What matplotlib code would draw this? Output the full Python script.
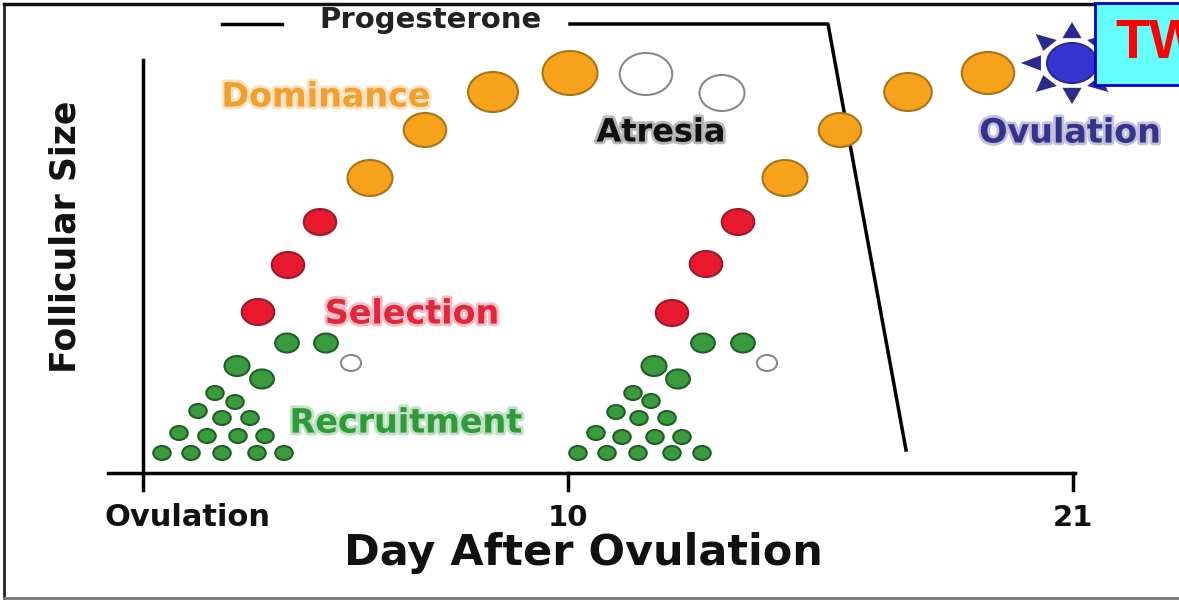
import matplotlib
matplotlib.use("Agg")
import matplotlib.pyplot as plt
import matplotlib.patheffects as pe
from matplotlib.patches import Ellipse, Rectangle, Polygon
import numpy as np

# canvas coordinates (pixel-like, y grows downward)
W, H = 1179, 602
STRETCH = 1.25  # the source picture is stretched sideways, follicles are ovals

# dominant follicles, two waves: x, y, half-height
dom_x = [370, 425, 493, 570, 785, 840, 908, 988]
dom_y = [178, 130, 92, 73, 178, 130, 92, 73]
dom_r = [18, 17, 20, 22, 18, 17, 19, 21]

# atretic follicles (empty)
atr_x = [646, 722]
atr_y = [74, 93]
atr_r = [21, 18]

# selected follicles (red)
sel_x = [258, 288, 320, 672, 706, 738]
sel_y = [312, 265, 222, 313, 264, 222]
sel_r = [13, 13, 13, 13, 13, 13]

# recruited follicles (green), first and second wave
rec_x1 = [287, 326, 237, 262, 215, 235, 198, 222, 250, 179, 207, 238, 265, 162, 191, 222, 257, 284]
rec_y1 = [343, 343, 366, 379, 393, 402, 411, 418, 418, 433, 436, 436, 436, 453, 453, 453, 453, 453]
rec_r = [9.5, 9.5, 10, 9.5, 7, 7, 7, 7, 7, 7, 7, 7, 7, 7, 7, 7, 7, 7]
rec_x2 = [703, 743, 654, 678, 633, 651, 616, 639, 667, 596, 622, 655, 682, 578, 607, 638, 672, 702]
rec_y2 = [343, 343, 366, 379, 393, 401, 412, 418, 418, 433, 437, 437, 437, 453, 453, 453, 453, 453]

# small empty follicles
small_x = [351, 767]
small_y = [363, 363]
small_r = [8, 8]

# ovulating follicle (sun)
sun_x, sun_y, sun_r = 1072, 63, 20

# progesterone line
prog_seg1_x = [222, 282]
prog_seg1_y = [24, 24]
prog_x = [570, 828, 906]
prog_y = [24, 24, 450]

# axes
xaxis_x = [108, 1075]
xaxis_y = [473, 473]
yaxis_x = [143, 143]
yaxis_y = [60, 490]
tick_x = [143, 568, 1073]
tick_labels = ["Ovulation", "10", "21"]
tick_label_x = [188, 568, 1073]
tick_label_size = [22, 21, 21]

fig = plt.figure(figsize=(W / 100, H / 100), dpi=100)
ax = fig.add_axes([0, 0, 1, 1])
ax.set_xlim(0, W)
ax.set_ylim(H, 0)
ax.axis("off")

font = ["DejaVu Sans"]

# outer frame
ax.plot([4, 4], [4, 598], color="#222222", lw=2)
ax.plot([4, 1095], [4, 4], color="#111111", lw=2.5)
ax.plot([4, W], [598, 598], color="#777777", lw=2)

# axes lines and ticks
ax.plot(xaxis_x, xaxis_y, color="black", lw=2.5)
ax.plot(yaxis_x, yaxis_y, color="black", lw=2.5)
for tx in tick_x[1:]:
    ax.plot([tx, tx], [473, 490], color="black", lw=2.5)
for lx, lab, fs in zip(tick_label_x, tick_labels, tick_label_size):
    ax.text(lx, 518, lab, ha="center", va="center", fontsize=fs, fontweight="bold",
            family=font, color="#111111")
ax.text(583, 553, "Day After Ovulation", ha="center", va="center", fontsize=31,
        fontweight="bold", family=font, color="#111111")
ax.text(66, 237, "Follicular Size", ha="center", va="center", rotation=90,
        fontsize=25, fontweight="bold", family=font, color="#111111")

# progesterone
ax.plot(prog_seg1_x, prog_seg1_y, color="black", lw=2.5)
ax.plot(prog_x, prog_y, color="black", lw=2.5)
ax.text(430, 20, "Progesterone", ha="center", va="center", fontsize=21,
        fontweight="bold", family=font, color="#222222")


def dots(xs, ys, rs, face, edge, lw=1.5):
    for x, y, r in zip(xs, ys, rs):
        ax.add_patch(Ellipse((x, y), 2 * r * STRETCH, 2 * r, facecolor=face,
                             edgecolor=edge, lw=lw, zorder=3))


dots(dom_x, dom_y, dom_r, "#f7a21b", "#a8741a")
dots(atr_x, atr_y, atr_r, "white", "#888888")
dots(sel_x, sel_y, sel_r, "#e8192c", "#9a1a28")
dots(rec_x1, rec_y1, rec_r, "#3a9a3e", "#1f5f22")
dots(rec_x2, rec_y2, rec_r, "#3a9a3e", "#1f5f22")
dots(small_x, small_y, small_r, "white", "#888888")

# sun rays
for ang in np.arange(0, 360, 45):
    a = np.deg2rad(ang)
    pts = []
    for d, off in ((41, 0.0), (26, 0.3), (26, -0.3)):
        pts.append((sun_x + d * STRETCH * np.cos(a + off), sun_y - d * np.sin(a + off)))
    ax.add_patch(Polygon(pts, closed=True, facecolor="#2b2b8f", edgecolor="none", zorder=3))
ax.add_patch(Ellipse((sun_x, sun_y), 2 * sun_r * STRETCH, 2 * sun_r,
                     facecolor="#3434d0", edgecolor="#2b2b8f", lw=1.5, zorder=4))


# stage labels with soft glow
def label(x, y, s, color, fs=24):
    ax.text(x, y, s, ha="center", va="center", fontsize=fs, fontweight="bold",
            color=color, family=font, zorder=5,
            path_effects=[pe.withStroke(linewidth=4, foreground=color, alpha=0.3)])


label(326, 97, "Dominance", "#f0a030")
label(661, 133, "Atresia", "#111111", 23)
label(1070, 133, "Ovulation", "#34348c")
label(412, 314, "Selection", "#e0283c")
label(406, 423, "Recruitment", "#2f9a3a")

# TW box
box = Rectangle((1095, 3), 100, 82, facecolor="#66ffff", edgecolor="#0000cc",
                lw=2, zorder=6)
ax.add_patch(box)
t = ax.text(1115, 44, "TW", ha="left", va="center", fontsize=40, fontweight="bold",
            color="#ff0000", family=["Liberation Sans"], zorder=7)
t.set_clip_path(box)

fig.savefig("out.png", dpi=100)
